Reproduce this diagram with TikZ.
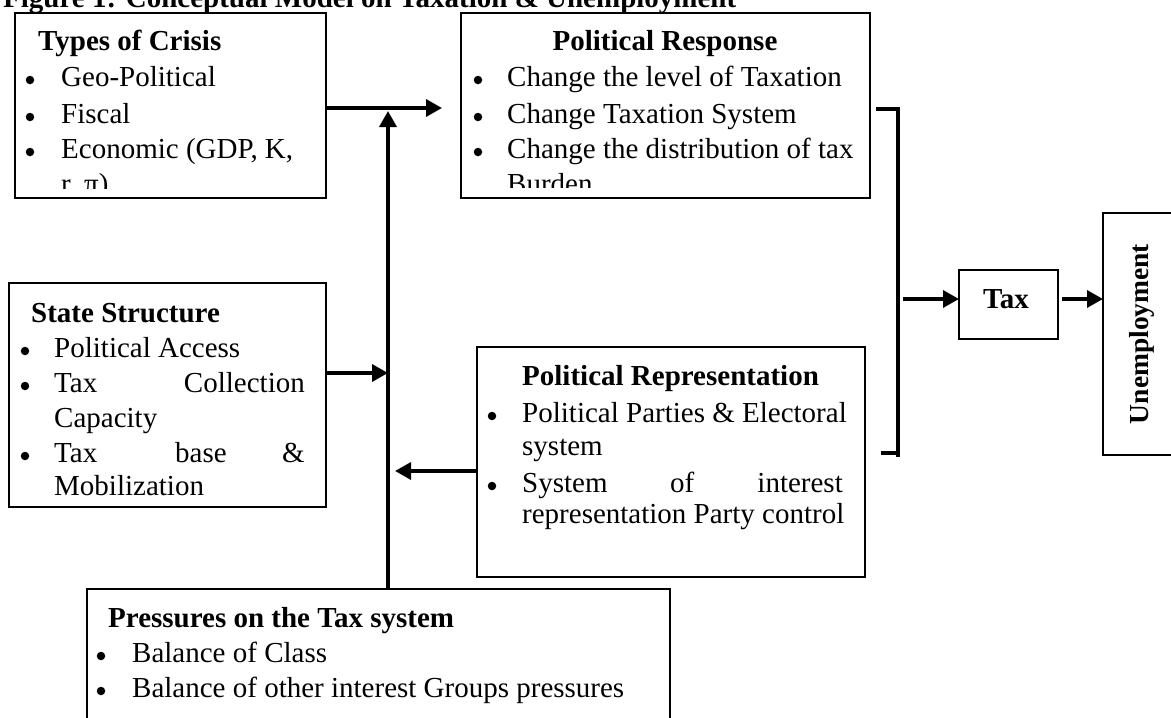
\documentclass[tikz,border=0pt]{standalone}
\usepackage{fontspec}
\setmainfont{Liberation Serif}
\usetikzlibrary{arrows.meta,calc}
\begin{document}
\begin{tikzpicture}[x=1pt,y=-1pt,
  box/.style={draw, line width=2.2pt, inner sep=0pt, outer sep=0pt, anchor=north west},
  txt/.style={inner sep=0pt, anchor=base west, font=\fontsize{29}{36}\selectfont},
  txr/.style={inner sep=0pt, anchor=base east, font=\fontsize{29}{36}\selectfont},
  ttl/.style={inner sep=0pt, anchor=base west, font=\fontsize{29}{36}\selectfont\bfseries},
  bul/.style={circle, fill, inner sep=0pt, minimum size=8.5pt, yshift=6pt},
  conn/.style={line width=3.5pt, -{Triangle[length=16pt,width=17pt]}},
  brk/.style={line width=3.5pt}]
\useasboundingbox (0,0) rectangle (1171,718);
\clip (0,0) rectangle (1171,718);

% figure title (cut off at the top, as in the reference)
\node[ttl] (fig) at (3,7) {Figure 1: Conceptual Model on Taxation \& Unemployment};

% boxes
\node[box, minimum width=311pt, minimum height=185pt] (crisis) at (15,13) {};
\node[box, minimum width=409pt, minimum height=185pt] (polresp) at (461,13) {};
\node[box, minimum width=317pt, minimum height=224pt] (state) at (9,283) {};
\node[box, minimum width=388pt, minimum height=230pt] (rep) at (477,347) {};
\node[box, minimum width=583pt, minimum height=150pt] (press) at (87,589) {};
\node[box, minimum width=99pt, minimum height=69pt] (tax) at (959,270) {};
\node[box, minimum width=80pt, minimum height=242pt] (unemp) at (1103,213) {};

% Types of Crisis
\begin{scope}
\clip (crisis.north west) rectangle ($(crisis.south east)+(0,-10)$);
\node[ttl] (c0) at (38,50) {Types of Crisis};
\node[bul] (cb1) at (30,86) {};
\node[txt] (c1) at (61,86) {Geo-Political};
\node[bul] (cb2) at (30,123) {};
\node[txt] (c2) at (61,123) {Fiscal};
\node[bul] (cb3) at (30,158) {};
\node[txt] (c3) at (61,158) {Economic (GDP, K,};
\node[txt] (c4) at (61,193) {r, π)};
\end{scope}

% Political Response
\begin{scope}
\clip (polresp.north west) rectangle ($(polresp.south east)+(0,-11)$);
\node[ttl, anchor=base] (p0) at (665,50) {Political Response};
\node[bul] (pb1) at (478,86) {};
\node[txt] (p1) at (507,86) {Change the level of Taxation};
\node[bul] (pb2) at (478,123) {};
\node[txt] (p2) at (507,123) {Change Taxation System};
\node[bul] (pb3) at (478,158) {};
\node[txt] (p3) at (507,158) {Change the distribution of tax};
\node[txt] (p4) at (507,193) {Burden};
\end{scope}

% State Structure
\node[ttl] (s0) at (31,322) {State Structure};
\node[bul] (sb1) at (25,357) {};
\node[txt] (s1a) at (54,357) {Political Access};
\node[bul] (sb2) at (25,392) {};
\node[txt] (s2a) at (54,392) {Tax};
\node[txr] (s2b) at (305,392) {Collection};
\node[txt] (s3a) at (54,427) {Capacity};
\node[bul] (sb3) at (25,462) {};
\node[txt] (s4a) at (54,462) {Tax};
\node[txt] (s4b) at (175,462) {base};
\node[txr] (s4c) at (305,462) {\&};
\node[txt] (s5a) at (54,495) {Mobilization};

% Political Representation
\node[ttl] (r0) at (522,385) {Political Representation};
\node[bul] (rb1) at (492,422) {};
\node[txt] (r1a) at (522,422) {Political Parties \& Electoral};
\node[txt] (r2a) at (522,455) {system};
\node[bul] (rb2) at (492,492) {};
\node[txt] (r3a) at (522,492) {System};
\node[txt] (r3b) at (670,492) {of};
\node[txr] (r3c) at (843,492) {interest};
\node[txt] (r4a) at (522,523) {representation Party control};

% Pressures on the Tax system
\node[ttl] (q0) at (108,627) {Pressures on the Tax system};
\node[bul] (qb1) at (101,662) {};
\node[txt] (q1) at (132,662) {Balance of Class};
\node[bul] (qb2) at (101,697) {};
\node[txt] (q2) at (132,697) {Balance of other interest Groups pressures};

% Tax and Unemployment
\node[ttl, anchor=base] (taxT) at (1006,308) {Tax};
\node[inner sep=0pt, rotate=90, font=\fontsize{27.5}{30}\selectfont\bfseries] (unempT) at (1142,334) {Unemployment};

% connectors
\coordinate (j1) at (442,108);
\draw[conn] (crisis.east |- j1) -- (j1);
\coordinate (vt) at (388,111);
\draw[conn] (vt |- press.north) -- (vt);
\coordinate (sj) at (388,373);
\draw[conn] (state.east |- sj) -- (sj);
\coordinate (rj) at (395,471);
\draw[conn] (rep.west |- rj) -- (rj);

\coordinate (bt) at (898,109);
\coordinate (bb) at (898,457);
\coordinate (bb2) at (898,453);
\draw[brk] ($(polresp.east |- bt)+(6,0)$) -- (bt) -- (bb);
\draw[brk] ($(rep.east |- bb2)+(16,0)$) -- (bb2);

\coordinate (tx) at (903,299);
\draw[conn] (tx) -- (tax.west |- tx);
\draw[conn] ($(tax.east |- tx)+(4,0)$) -- (unemp.west |- tx);
\end{tikzpicture}
\end{document}
